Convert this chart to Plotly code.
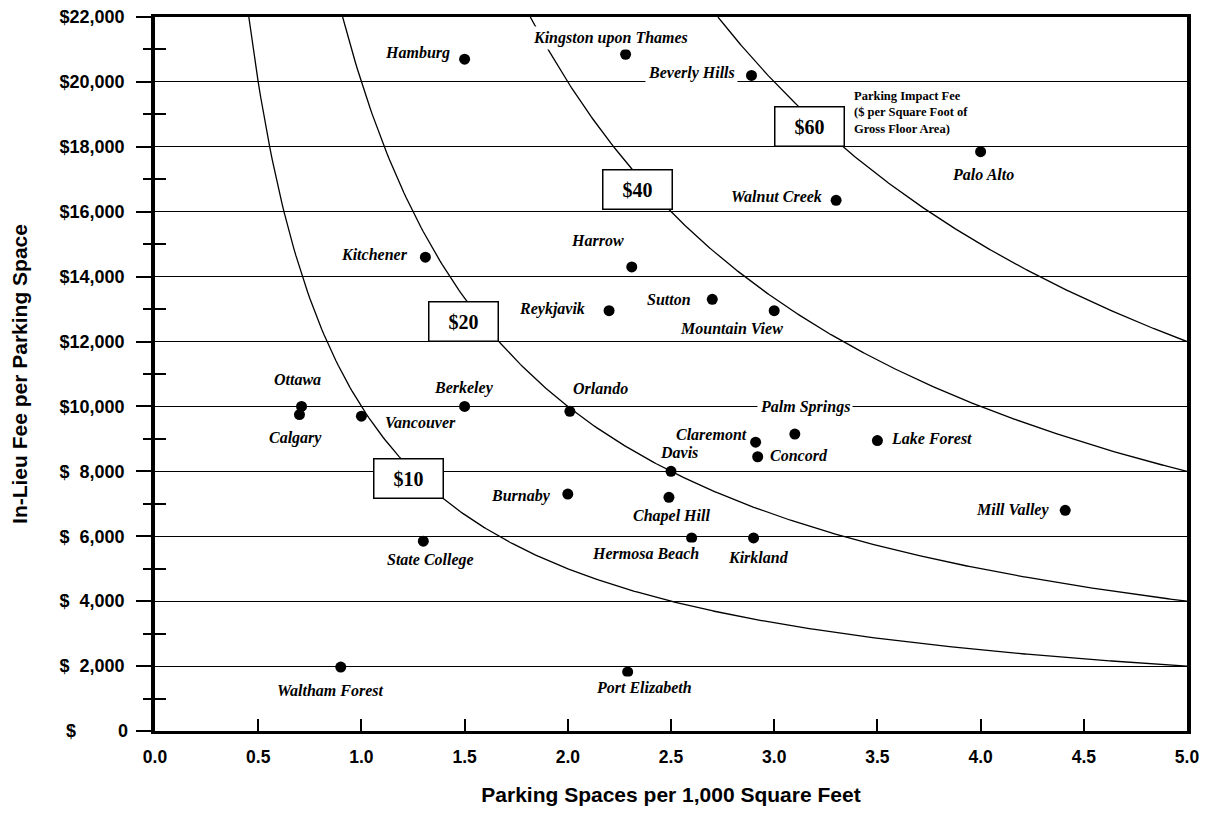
import numpy as np
import plotly.graph_objects as go

# ---------------- data ----------------
CITIES = ["Hamburg", "Kingston upon Thames", "Beverly Hills", "Palo Alto", "Walnut Creek",
          "Kitchener", "Harrow", "Sutton", "Reykjavik", "Mountain View",
          "Ottawa", "Calgary", "Vancouver", "Berkeley", "Orlando",
          "Palm Springs", "Claremont", "Concord", "Lake Forest", "Davis",
          "Burnaby", "Chapel Hill", "Mill Valley", "Hermosa Beach", "Kirkland",
          "State College", "Waltham Forest", "Port Elizabeth"]
SPACES = [1.50, 2.28, 2.89, 4.00, 3.30,
          1.31, 2.31, 2.70, 2.20, 3.00,
          0.71, 0.70, 1.00, 1.50, 2.01,
          3.10, 2.91, 2.92, 3.50, 2.50,
          2.00, 2.49, 4.41, 2.60, 2.90,
          1.30, 0.90, 2.29]
FEES = [20700, 20850, 20200, 17850, 16350,
        14600, 14300, 13300, 12950, 12950,
        10000, 9750, 9700, 10000, 9850,
        9150, 8900, 8450, 8950, 8000,
        7300, 7200, 6800, 5950, 5950,
        5850, 1970, 1820]

FEE_LEVELS = [10, 20, 40, 60]          # $ per square foot of gross floor area

X_TICKS = [0.0, 0.5, 1.0, 1.5, 2.0, 2.5, 3.0, 3.5, 4.0, 4.5, 5.0]
X_TICK_TEXT = ["0.0", "0.5", "1.0", "1.5", "2.0", "2.5", "3.0", "3.5", "4.0", "4.5", "5.0"]
Y_TICKS = [0, 2000, 4000, 6000, 8000, 10000, 12000, 14000, 16000, 18000, 20000, 22000]
SP = "\u00a0"
Y_TICK_TEXT = ["0", "$" + SP * 2 + "2,000", "$" + SP * 2 + "4,000",
               "$" + SP * 2 + "6,000", "$" + SP * 2 + "8,000", "$10,000", "$12,000",
               "$14,000", "$16,000", "$18,000", "$20,000", "$22,000"]
Y_ZERO_PREFIX = "$"                    # the "$" of the "$      0" label, set flush left
Y_MINOR = [1000, 3000, 5000, 7000, 9000, 11000, 13000, 15000, 17000, 19000, 21000]

# ---------------- styles / label placement (pixel offsets) ----------------
LABEL_OFFSETS = {
    "Hamburg": (-47, 6), "Kingston upon Thames": (-15, 16), "Beverly Hills": (-60, 2),
    "Palo Alto": (2, -23), "Walnut Creek": (-60, 4), "Kitchener": (-51, 3),
    "Harrow": (-34, 26), "Sutton": (-43, 0), "Reykjavik": (-57, 2),
    "Mountain View": (-43, -18), "Ottawa": (-4, 27), "Calgary": (-4, -23),
    "Vancouver": (59, -6), "Berkeley": (-1, 18), "Orlando": (31, 23),
    "Palm Springs": (10, 27), "Claremont": (-44, 8), "Concord": (41, 1),
    "Lake Forest": (54, 2), "Davis": (8, 19), "Burnaby": (-47, -2),
    "Chapel Hill": (3, -19), "Mill Valley": (-53, 0), "Hermosa Beach": (-46, -16),
    "Kirkland": (5, -20), "State College": (7, -19), "Waltham Forest": (-10, -23),
    "Port Elizabeth": (16, -16),
}
BOX_POS = {10: (1.23, 7150), 20: (1.495, 12000), 40: (2.34, 16050), 60: (3.17, 18000)}

SANS = "Liberation Sans, Arial, Helvetica, sans-serif"
SERIF = "Liberation Serif, Times New Roman, serif"

fig = go.Figure()

# iso-fee curves: fee per sq ft = spaces per 1,000 sq ft * fee per space / 1,000
for fee in FEE_LEVELS:
    xs = np.linspace(fee * 1000 / 22000, 5, 400)
    fig.add_trace(go.Scatter(x=xs, y=fee * 1000 / xs, mode="lines",
                             line=dict(color="black", width=1.3),
                             yaxis="y2", hoverinfo="skip", showlegend=False))

fig.add_trace(go.Scatter(x=SPACES, y=FEES, mode="markers", text=CITIES,
                         marker=dict(color="black", size=11),
                         showlegend=False, hoverinfo="text"))

for name, xv, yv in zip(CITIES, SPACES, FEES):
    dx, dy = LABEL_OFFSETS[name]
    fig.add_annotation(x=xv, y=yv, text=name, showarrow=False,
                       xshift=dx, yshift=dy,
                       font=dict(family=SERIF, size=16, color="black",
                                 weight="bold", style="italic"),
                       bgcolor="white", borderpad=2)

for fee in FEE_LEVELS:
    bx, by = BOX_POS[fee]
    fig.add_annotation(x=bx, y=by, yanchor="bottom",
                       text="$" + str(fee), showarrow=False,
                       font=dict(family=SERIF, size=20, color="black", weight="bold"),
                       bgcolor="white", bordercolor="black", borderwidth=1.5,
                       borderpad=1, width=66, height=36)

fig.add_annotation(x=3.38, y=19800, xanchor="left", yanchor="top",
                   align="left", showarrow=False,
                   text="Parking Impact Fee<br>($ per Square Foot of<br>Gross Floor Area)",
                   font=dict(family=SERIF, size=12.5, color="black", weight="bold"),
                   bgcolor="white", borderpad=0)

tickfont = dict(family=SANS, size=18, color="black", weight="bold")
xtickfont = dict(family=SANS, size=17.5, color="black", weight="bold")
titlefont = dict(family=SANS, size=21, color="black", weight="bold")

# the corner label "$      0": the axis drops a label here, so it is set as text
fig.add_annotation(xref="paper", x=0, xanchor="left", xshift=-90,
                   yref="y", y=Y_TICKS[0], yanchor="middle",
                   text=Y_ZERO_PREFIX, showarrow=False, font=tickfont, borderpad=0)
fig.add_annotation(xref="paper", x=0, xanchor="right", xshift=-26,
                   yref="y", y=Y_TICKS[0], yanchor="middle",
                   text=Y_TICK_TEXT[0], showarrow=False, font=tickfont, borderpad=0)

# the page body adds an 8px margin, so the figure is sized to fit inside the window
fig.update_layout(
    width=1192, height=800,
    margin=dict(l=147, r=13, t=9, b=77, autoexpand=False),
    paper_bgcolor="white", plot_bgcolor="white",
    showlegend=False,
    xaxis=dict(range=[0, 5], tickvals=X_TICKS, ticktext=X_TICK_TEXT,
               ticks="inside", ticklen=12, tickwidth=1.5, tickcolor="black",
               showline=True, linewidth=3, linecolor="black", mirror=True,
               showgrid=False, zeroline=False, tickfont=xtickfont,
               ticklabelstandoff=8, automargin=False, ticklabeloverflow="allow",
               title=dict(text="Parking Spaces per 1,000 Square Feet", font=titlefont,
                          standoff=22)),
    yaxis=dict(range=[0, 22000], tickvals=Y_TICKS, ticktext=[""] + Y_TICK_TEXT[1:],
               ticks="outside", ticklen=15, tickwidth=1.5, tickcolor="black",
               showline=True, linewidth=3.5, linecolor="black", mirror=True,
               showgrid=True, gridcolor="black", gridwidth=1.4,
               zeroline=False, tickfont=tickfont, ticklabelstandoff=8,
               automargin=False, ticklabeloverflow="allow",
               minor=dict(tickvals=Y_MINOR, ticks="outside", ticklen=8,
                          tickwidth=1.5, tickcolor="black", showgrid=False),
               title=dict(text="In-Lieu Fee per Parking Space", font=titlefont,
                          standoff=31)),
    yaxis2=dict(overlaying="y", side="left", range=[0, 22000],
                tickvals=Y_MINOR, ticks="inside", ticklen=11, tickwidth=1.5,
                tickcolor="black", showticklabels=False, showgrid=False,
                showline=False, zeroline=False, automargin=False),
)

fig.write_html("out.html")
